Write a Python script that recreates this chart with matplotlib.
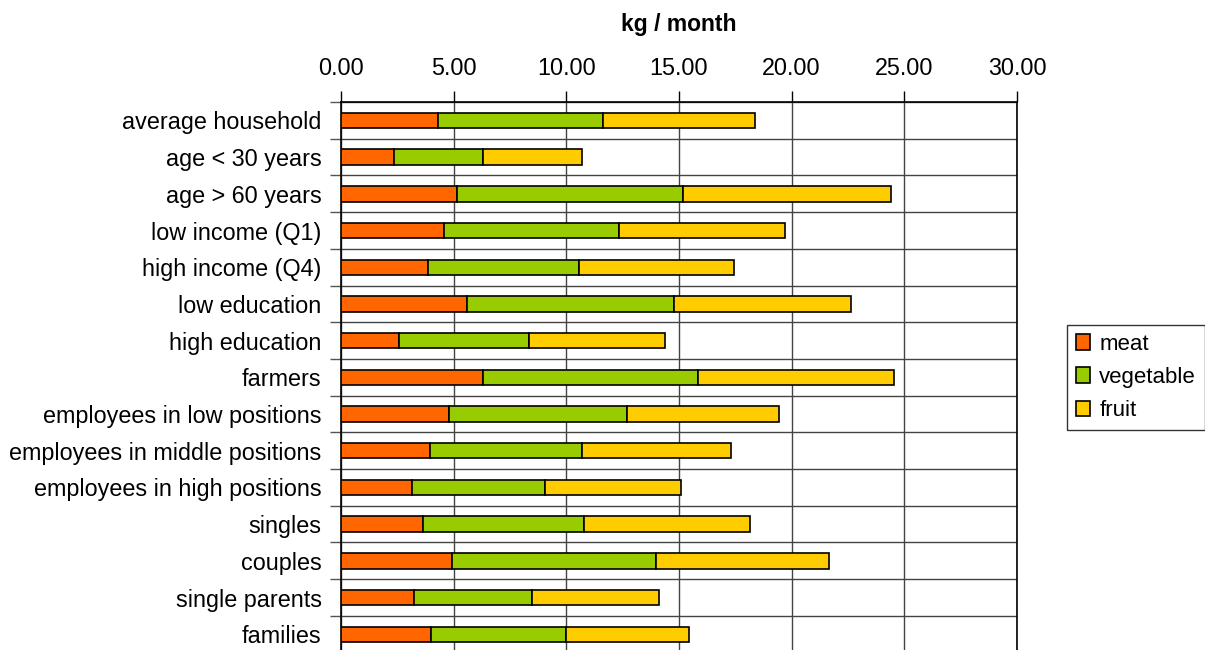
import matplotlib
matplotlib.use("Agg")
import matplotlib.pyplot as plt
import numpy as np

plt.rcParams['font.family'] = ['Liberation Sans', 'DejaVu Sans']

categories = [
    "average household", "age < 30 years", "age > 60 years", "low income (Q1)",
    "high income (Q4)", "low education", "high education", "farmers",
    "employees in low positions", "employees in middle positions",
    "employees in high positions", "singles", "couples", "single parents", "families",
]
meat = [4.29, 2.37, 5.15, 4.59, 3.88, 5.58, 2.59, 6.29, 4.80, 3.95, 3.17, 3.66, 4.94, 3.23, 4.01]
vegetable = [7.33, 3.92, 10.02, 7.74, 6.67, 9.18, 5.76, 9.54, 7.90, 6.74, 5.89, 7.12, 9.02, 5.25, 5.98]
fruit = [6.75, 4.41, 9.24, 7.39, 6.90, 7.88, 6.05, 8.71, 6.73, 6.60, 6.04, 7.37, 7.68, 5.63, 5.46]
series_names = ["meat", "vegetable", "fruit"]
colors = ["#FF6600", "#99CC00", "#FFCC00"]
xticks = [0, 5, 10, 15, 20, 25, 30]

FS = 16.8

fig = plt.figure(figsize=(12.05, 6.5), dpi=100)
ax = fig.add_axes([341 / 1205, -0.004, (1017 - 341) / 1205, 0.847])

y = np.arange(len(categories))
left = np.zeros(len(categories))
for vals, name, col in zip([meat, vegetable, fruit], series_names, colors):
    ax.barh(y, vals, left=left, height=0.42, color=col, edgecolor="black",
            linewidth=1.2, label=name, zorder=3)
    left = left + np.array(vals)

ax.set_xlim(0, 30)
ax.set_ylim(len(categories) - 0.5, -0.5)

ax.xaxis.tick_top()
ax.xaxis.set_label_position("top")
ax.set_xticks(xticks)
ax.set_xticklabels([f"{v:.2f}" for v in xticks], fontsize=FS)
ax.tick_params(axis="x", direction="out", length=8, width=1, pad=8)
ax.set_xlabel("kg / month", fontsize=16.5, fontweight="bold", labelpad=18.5)

ax.set_yticks(y)
ax.set_yticklabels(categories, fontsize=FS)
ax.set_yticks(np.arange(len(categories) + 1) - 0.5, minor=True)
ax.tick_params(axis="y", which="major", length=0, pad=14)
ax.tick_params(axis="y", which="minor", direction="out", length=8, width=1,
               color="#555555")

ax.grid(axis="x", which="major", color="#444444", linewidth=1.0, zorder=0)
ax.grid(axis="y", which="minor", color="#444444", linewidth=1.0, zorder=0)
ax.set_axisbelow(True)

for s in ax.spines.values():
    s.set_color("black")
    s.set_linewidth(1.2)

leg = fig.legend(loc="center left", bbox_to_anchor=(1067 / 1205, 1 - 377.5 / 650),
                 bbox_transform=fig.transFigure, fontsize=16, frameon=True,
                 fancybox=False, edgecolor="black", handlelength=0.65,
                 handleheight=0.7, handletextpad=0.4, labelspacing=0.55,
                 borderpad=0.4, borderaxespad=0)
leg.get_frame().set_linewidth(1.0)

fig.savefig("out.png", dpi=100)
